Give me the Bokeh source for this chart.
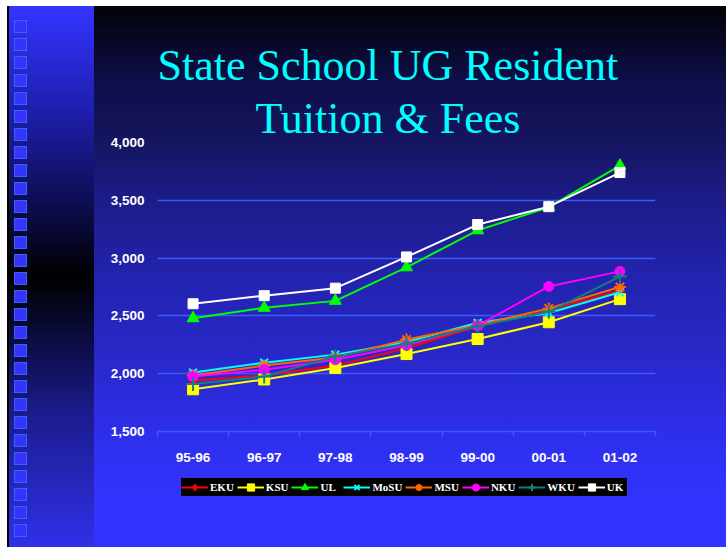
from bokeh.plotting import figure
from bokeh.models import Range1d, FixedTicker, NumeralTickFormatter, Title
from bokeh.layouts import column
from bokeh.embed import file_html
from bokeh.resources import INLINE

# ---------------- data ----------------
years = ["95-96", "96-97", "97-98", "98-99", "99-00", "00-01", "01-02"]
EKU = [1940, 1985, 2070, 2220, 2410, 2550, 2720]
KSU = [1865, 1950, 2050, 2170, 2300, 2445, 2645]
UL = [2480, 2570, 2630, 2920, 3240, 3440, 3800]
MoSU = [2010, 2095, 2165, 2275, 2440, 2525, 2705]
MSU = [1985, 2070, 2140, 2295, 2420, 2565, 2750]
NKU = [1975, 2035, 2120, 2245, 2415, 2755, 2885]
WKU = [1910, 1975, 2150, 2260, 2410, 2535, 2840]
UK = [2605, 2675, 2740, 3010, 3290, 3445, 3740]
y_ticks = [1500, 2000, 2500, 3000, 3500, 4000]
title_lines = ["State School UG Resident", "Tuition & Fees"]

series = [
    ("EKU", EKU, "#ff0000", "diamond", 11),
    ("KSU", KSU, "#ffff00", "square", 11),
    ("UL", UL, "#00ff00", "triangle", 12),
    ("MoSU", MoSU, "#00ffff", "x", 11),
    ("MSU", MSU, "#ff6600", "asterisk", 12),
    ("NKU", NKU, "#ff00ff", "circle", 10),
    ("WKU", WKU, "#108080", "cross", 14),
    ("UK", UK, "#ffffff", "square", 10),
]

GRID = "#3a5cff"
n = len(years)
xpos = [i + 0.5 for i in range(n)]   # category centres on a 0..n axis

W, H = 726, 547
FL, FT, FW, FH = 157, 142, 498, 289   # frame box on the page
H1 = 466                               # main figure height (frame + x axis)
H2 = H - H1                            # legend strip height

# ---------------- slide background (CSS layers) ----------------
def solid(c):
    return f"linear-gradient({c},{c})"

def slide_bg(dy, h):
    imgs, poss, sizes = [], [], []
    def layer(img, pos, size):
        imgs.append(img); poss.append(pos); sizes.append(size)
    if dy < 6:
        layer(solid("#ffffff"), "0px 0px", f"100% {6 - dy}px")
    layer(solid("#ffffff"), "0px 0px", "7px 100%")
    layer(solid("#000000"), "7px 0px", "2px 100%")
    for k in range(29):
        top = 20 + 18 * k - dy
        if top + 13 < 0 or top > h:
            continue
        layer(solid("#3434fa"), f"15px {top + 1}px", "11px 11px")
        layer(solid("#3a62ff"), f"14px {top}px", "13px 13px")
    layer("linear-gradient(to bottom, #3434ff 0%, #1e1eaa 20%, #0c0c48 38%, #000000 50.1%, #0a0a38 60%, #1c1c90 76%, #3030e8 100%)",
          f"9px {6 - dy}px", "85px 541px")
    layer("linear-gradient(to bottom, #020208 0%, #0e0e48 13.7%, #151560 24.8%, #1c1c88 35.9%, #2323b0 50.7%, #2828c8 63.6%, #2e2eea 78.4%, #3333ff 91.3%, #3333ff 100%)",
          f"0px {6 - dy}px", "726px 541px")
    return {
        "background-image": ", ".join(imgs),
        "background-position": ", ".join(poss),
        "background-size": ", ".join(sizes),
        "background-repeat": "no-repeat",
        "background-color": "#3333ff",
    }

# ---------------- main chart ----------------
p = figure(frame_width=FW, frame_height=FH,
           x_range=Range1d(0, n), y_range=Range1d(1500, 4000),
           output_backend="svg", toolbar_location=None,
           min_border_left=FL, min_border_right=W - FL - FW,
           min_border_top=FT, min_border_bottom=H1 - FT - FH,
           border_fill_color=None, background_fill_color=None,
           outline_line_color=None, styles=slide_bg(0, H1))

xa = p.xaxis[0]
xa.ticker = FixedTicker(ticks=xpos, minor_ticks=list(range(n + 1)))
xa.major_label_overrides = {x: y for x, y in zip(xpos, years)}
xa.axis_line_color = GRID
xa.axis_line_width = 1.5
xa.major_tick_line_color = None
xa.major_tick_out = 0
xa.major_tick_in = 0
xa.minor_tick_line_color = GRID
xa.minor_tick_line_width = 1.5
xa.minor_tick_out = 5
xa.minor_tick_in = 0
xa.major_label_standoff = 16
xa.major_label_text_color = "white"
xa.major_label_text_font = "Liberation Sans"
xa.major_label_text_font_style = "bold"
xa.major_label_text_font_size = "13.5px"

ya = p.yaxis[0]
ya.ticker = FixedTicker(ticks=y_ticks)
ya.formatter = NumeralTickFormatter(format="0,0")
ya.axis_line_color = None
ya.major_tick_line_color = None
ya.minor_tick_line_color = None
ya.major_tick_out = 0
ya.major_label_standoff = 13
ya.major_label_text_color = "white"
ya.major_label_text_font = "Liberation Sans"
ya.major_label_text_font_style = "bold"
ya.major_label_text_font_size = "13.5px"

p.xgrid.visible = False
p.ygrid.ticker = FixedTicker(ticks=y_ticks)
p.ygrid.grid_line_color = GRID
p.ygrid.grid_line_width = 1.5

for name, vals, col, mk, sz in series:
    p.line(x=xpos, y=vals, line_color=col, line_width=2)
    lw = 2 if mk in ("x", "asterisk", "cross") else 1
    p.scatter(x=xpos, y=vals, marker=mk, size=sz, fill_color=col,
              line_color=col, line_width=lw)

# title (two lines), nearest line first
for txt, off, so in zip(reversed(title_lines), [98, 0], [0, 4]):
    p.add_layout(Title(text=txt, align="left", offset=off, standoff=so,
                       text_color="#00ffff", text_font="Liberation Serif",
                       text_font_size="44px", text_font_style="normal"), "above")

# ---------------- legend strip ----------------
# legend-only proxies: one off-range point each, so the key glyphs get their styles
q = figure(width=W, height=H2, x_range=Range1d(0, 1), y_range=Range1d(0, 1),
           output_backend="svg", toolbar_location=None,
           x_axis_location=None, y_axis_location=None,
           min_border_left=FL, min_border_right=W - FL - FW,
           min_border_top=0, min_border_bottom=0,
           border_fill_color=None, background_fill_color=None,
           outline_line_color=None, styles=slide_bg(H1, H2))
q.grid.visible = False
for name, vals, col, mk, sz in series:
    q.line(x=[-5, -4], y=[-5, -5], line_color=col, line_width=2, legend_label=name)
    lw = 2 if mk in ("x", "asterisk", "cross") else 1
    q.scatter(x=[-5], y=[-5], marker=mk, size=sz, fill_color=col,
              line_color=col, line_width=lw, legend_label=name)

lg = q.legend[0]
lg.orientation = "horizontal"
lg.location = (24, H - 496)
lg.background_fill_color = "black"
lg.background_fill_alpha = 1
lg.border_line_color = None
lg.label_text_color = "white"
lg.label_text_font = "Liberation Serif"
lg.label_text_font_style = "bold"
lg.label_text_font_size = "11px"
lg.glyph_width = 27
lg.glyph_height = 18
lg.label_height = 18
lg.label_standoff = 2
lg.spacing = 3
lg.padding = 1
lg.margin = 0

layout = column(p, q, spacing=0)
open("out.html", "w").write(file_html(layout, INLINE))
